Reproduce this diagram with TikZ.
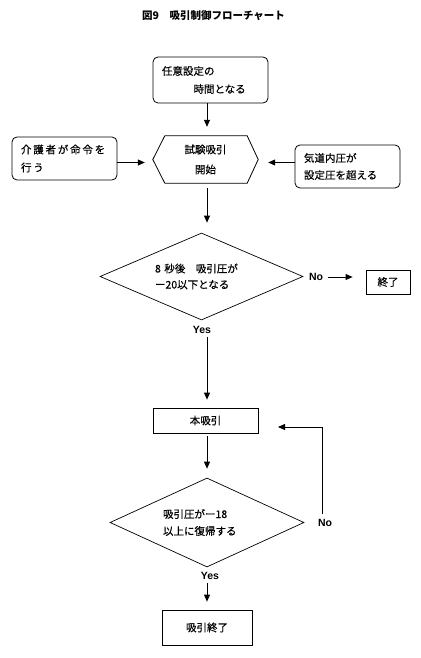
\documentclass[tikz,border=0pt]{standalone}
\usepackage{fontspec}
\setmainfont{Noto Sans CJK JP}[FakeBold=0.4, BoldFeatures={FakeBold=0}]
\newfontfamily\latinb{Liberation Sans}
\usetikzlibrary{arrows.meta,shapes.geometric,calc}
\begin{document}
\begin{tikzpicture}[x=1pt,y=-1pt,
  font=\fontsize{10.5}{18}\selectfont,
  rbox/.style={draw, rounded corners=5pt, line width=0.8pt, inner sep=0pt},
  sbox/.style={draw, line width=0.8pt, inner sep=0pt},
  dia/.style={draw, diamond, line width=0.7pt, inner sep=0pt},
  arr/.style={line width=0.8pt, -{Triangle[length=7pt,width=6pt]}},
  lbl/.style={font=\latinb\bfseries\fontsize{10.5}{12}\selectfont, inner sep=0pt},
]
\useasboundingbox (0,0) rectangle (420,658);
% title
\node[font=\bfseries\fontsize{10.5}{12}\selectfont] (title) at (213.5,16) {図9　吸引制御フローチャート};
% top box
\node[rbox, minimum width=115pt, minimum height=46pt, text width=97pt, align=left] (t) at (210.5,80)
  {任意設定の\\\hspace*{3em}時間となる};
% hexagon
\node[inner sep=0pt, minimum width=105pt, minimum height=47pt, align=center,
  font=\fontsize{10.5}{20}\selectfont] (h) at (205.5,159.5) {試験吸引\\開始};
\draw[line width=0.8pt] (h.west) -- ($(h.north west)+(12,0)$) -- ($(h.north east)+(-11,0)$) -- (h.east)
  -- ($(h.south east)+(-11,0)$) -- ($(h.south west)+(12,0)$) -- cycle;
% left box
\node[rbox, minimum width=105pt, minimum height=43pt, text width=87pt, align=left] (l) at (64.5,158.5)
  {\addfontfeatures{LetterSpace=17}介護者が命令を\\行う};
% right box
\node[rbox, minimum width=105pt, minimum height=43pt, text width=87pt, align=left,
  font=\fontsize{10.5}{17}\selectfont] (r) at (347.5,166.5)
  {気道内圧が\\設定圧を超える};
% diamond 1
\node[dia, aspect=2.33, minimum width=203pt, minimum height=87pt, text width=93pt, align=left,
  font=\fontsize{10.5}{16}\selectfont] (d1) at (201.5,276.5)
  {8 秒後　吸引圧が\\ー20以下となる};
\node[lbl] (n1) at (316,277) {No};
\node[sbox, minimum width=44pt, minimum height=24pt] (e1) at (388,282) {終了};
\node[lbl] (y1) at (202,330) {Yes};
% main suction
\node[sbox, minimum width=105pt, minimum height=25pt] (b1) at (205.5,420.5) {本吸引};
% diamond 2
\node[dia, aspect=2.18, minimum width=194pt, minimum height=89pt, text width=88pt, align=left,
  font=\fontsize{10.5}{17}\selectfont] (d2) at (207,522.5)
  {吸引圧がー18\\以上に復帰する};
\node[lbl] (n2) at (325,523) {No};
\node[lbl] (y2) at (210,576) {Yes};
\node[sbox, minimum width=90pt, minimum height=35pt] (e2) at (207,627.5) {吸引終了};
\coordinate (fb) at (258,427);
% connectors
\draw[arr, shorten >=9pt] (t.south -| 207,0) -- (h.north -| 207,0);
\draw[arr, shorten >=8pt] ([yshift=-3pt]l.east |- h.west) -- ([yshift=-3pt]h.west);
\draw[arr, shorten >=10pt] ([yshift=-3pt]r.west |- h.east) -- ([yshift=-3pt]h.east);
\draw[arr, shorten <=5pt, shorten >=10pt] (h.south -| 207,0) -- (d1.north -| 207,0);
\draw[arr, shorten <=5pt, shorten >=13pt] (n1.east) -- (e1.west |- n1.east);
\draw[arr, shorten <=3pt, shorten >=8pt] (y1.south -| 207,0) -- (b1.north -| 207,0);
\draw[arr, shorten <=3pt, shorten >=9pt] (b1.south -| 207,0) -- (d2.north);
\draw[arr, shorten <=5pt, shorten >=20pt] (n2.north -| 322,0) |- (fb);
\draw[arr, shorten <=3pt, shorten >=8pt] (y2.south -| 207,0) -- (e2.north);
\end{tikzpicture}
\end{document}
